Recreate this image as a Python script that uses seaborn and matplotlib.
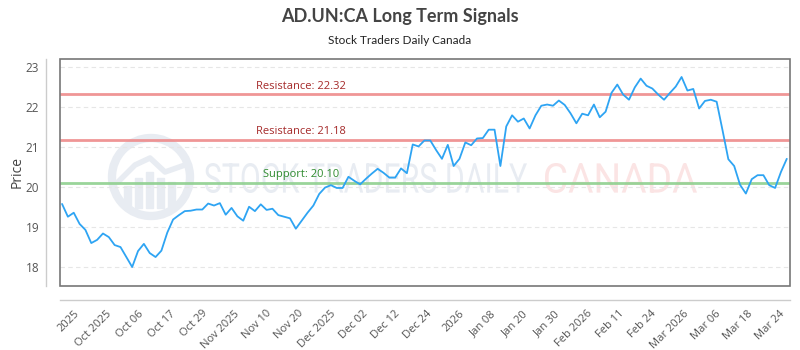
import numpy as np
import pandas as pd
import matplotlib
matplotlib.use("Agg")
import matplotlib.pyplot as plt
from matplotlib.patches import Rectangle, Ellipse, PathPatch
from matplotlib.textpath import TextPath
from matplotlib.font_manager import FontProperties
from matplotlib.transforms import Affine2D, IdentityTransform
from matplotlib.lines import Line2D
import seaborn as sns

prices = [
    19.57, 19.25, 19.35, 19.07, 18.92, 18.59, 18.67, 18.83, 18.74, 18.54,
    18.49, 18.24, 17.99, 18.39, 18.57, 18.34, 18.24, 18.40, 18.85, 19.18,
    19.29, 19.39, 19.40, 19.43, 19.43, 19.58, 19.53, 19.59, 19.30, 19.47,
    19.26, 19.15, 19.50, 19.39, 19.56, 19.42, 19.45, 19.29, 19.25, 19.21,
    18.95, 19.15, 19.35, 19.53, 19.82, 19.98, 20.04, 19.97, 19.97, 20.25,
    20.15, 20.06, 20.20, 20.33, 20.45, 20.35, 20.23, 20.23, 20.46, 20.34,
    21.06, 21.01, 21.16, 21.16, 20.92, 20.70, 21.05, 20.52, 20.70, 21.11,
    21.04, 21.21, 21.22, 21.43, 21.43, 20.52, 21.51, 21.79, 21.63, 21.71,
    21.46, 21.79, 22.03, 22.06, 22.03, 22.16, 22.05, 21.84, 21.59, 21.83,
    21.79, 22.06, 21.74, 21.88, 22.35, 22.56, 22.31, 22.18, 22.49, 22.71,
    22.53, 22.46, 22.31, 22.18, 22.35, 22.51, 22.75, 22.41, 22.45, 21.96,
    22.15, 22.18, 22.13, 21.42, 20.69, 20.52, 20.05, 19.83, 20.19, 20.29,
    20.29, 20.04, 19.97, 20.37, 20.70,
]
tick_labels = [
    "2025", "Oct 2025", "Oct 06", "Oct 17", "Oct 29", "Nov 2025", "Nov 10",
    "Nov 20", "Dec 2025", "Dec 02", "Dec 12", "Dec 24", "2026", "Jan 08",
    "Jan 20", "Jan 30", "Feb 2026", "Feb 11", "Feb 24", "Mar 2026", "Mar 06",
    "Mar 18", "Mar 24",
]
resistance_levels = [22.32, 21.18]
support_levels = [20.10]
title = "AD.UN:CA Long Term Signals"
subtitle = "Stock Traders Daily Canada"
watermark_main = "STOCK TRADERS DAILY"
watermark_region = "CANADA"

df = pd.DataFrame({"t": np.arange(len(prices)), "price": prices})

sns.set_style("white")
plt.rcParams["font.family"] = ["Open Sans", "DejaVu Sans"]

fig = plt.figure(figsize=(8, 3.5), dpi=100)
ax = fig.add_axes([0.075, 0.1829, 0.9125, 0.6485])
ax.patch.set_alpha(0)
H = 350


def wm_text(s, x0, x1, ytop, ybot, color):
    tp = TextPath((0, 0), s, size=100, prop=FontProperties(family="Roboto"))
    bb = tp.get_extents()
    y0, y1 = H - ybot, H - ytop
    tr = (Affine2D().translate(-bb.x0, -bb.y0)
          .scale((x1 - x0) / bb.width, (y1 - y0) / bb.height)
          .translate(x0, y0))
    fig.add_artist(PathPatch(tr.transform_path(tp), transform=IdentityTransform(),
                             fc=color, ec="none", zorder=-2))


wm_col = "#e8ecf2"
wm_text(watermark_main, 205, 527, 163, 193, wm_col)
wm_text(watermark_region, 545, 697, 163, 193, "#fbe4e4")
fig.add_artist(Ellipse((151, H - 177), 78, 78, transform=IdentityTransform(),
                       fill=False, ec=wm_col, lw=6, zorder=-2))
for bx, bh in [(124, 22), (135, 30), (146, 36), (157, 30), (168, 26)]:
    fig.add_artist(Rectangle((bx, H - 208), 7, bh, transform=IdentityTransform(),
                             color=wm_col, zorder=-2))
fig.add_artist(Line2D([118, 135, 150, 165, 185], [H - 182, H - 165, H - 158, H - 172, H - 165],
                      transform=IdentityTransform(), color=wm_col, lw=4, zorder=-2))

sns.lineplot(data=df, x="t", y="price", ax=ax, color="#2ea4f3", lw=1.3,
             zorder=5)

for lvl in resistance_levels:
    ax.axhline(lvl, color="#ee8b8b", lw=2, alpha=0.9, zorder=3)
    ax.text(0.33, lvl + 0.06, f"Resistance: {lvl:.2f}", transform=ax.get_yaxis_transform(),
            ha="center", va="bottom", fontsize=8, color="#a52a2a", zorder=6)
for lvl in support_levels:
    ax.axhline(lvl, color="#8fd08f", lw=2, alpha=0.9, zorder=3)
    ax.text(0.33, lvl + 0.06, f"Support: {lvl:.2f}", transform=ax.get_yaxis_transform(),
            ha="center", va="bottom", fontsize=8, color="#2e8b2e", zorder=6)

ax.set_xlim(-0.35, 124.55)
ax.set_ylim(17.515, 23.2)
ax.set_yticks([18, 19, 20, 21, 22, 23])
ax.yaxis.grid(True, color="#e6e6e6", ls=(0, (4, 3)), lw=0.8)
ax.xaxis.grid(False)

ax.tick_params(axis="both", length=0, labelcolor="#555555")
ax.tick_params(axis="y", pad=5, labelsize=8.5)
ax.tick_params(axis="x", pad=6, labelsize=8)
ax.set_xlabel("")
ax.set_ylabel("Price", fontsize=10, color="#444444")
ax.yaxis.set_label_coords(-0.049, 0.5)

for s in ["top", "right"]:
    ax.spines[s].set_visible(False)
for s in ["left", "bottom"]:
    ax.spines[s].set_position(("outward", 10))
    ax.spines[s].set_color("#cccccc")
    ax.spines[s].set_linewidth(1)
ax.add_patch(Rectangle((0, 0), 1, 1, transform=ax.transAxes, fill=False,
                       ec="#777777", lw=1.2, zorder=7, clip_on=False))

ax.set_xticks(np.linspace(3.4, 124, len(tick_labels)))
ax.set_xticklabels(tick_labels, rotation=45, ha="right", va="top",
                   rotation_mode="default")

fig.text(0.5, 0.953, title, ha="center", va="center", fontsize=13,
         fontweight="bold", color="#444444", family=["Lato", "DejaVu Sans"])
fig.text(0.5, 0.885, subtitle, ha="center", va="center", fontsize=8.5,
         color="#222222", family=["Lato", "DejaVu Sans"])

fig.savefig("out.png", dpi=100)
